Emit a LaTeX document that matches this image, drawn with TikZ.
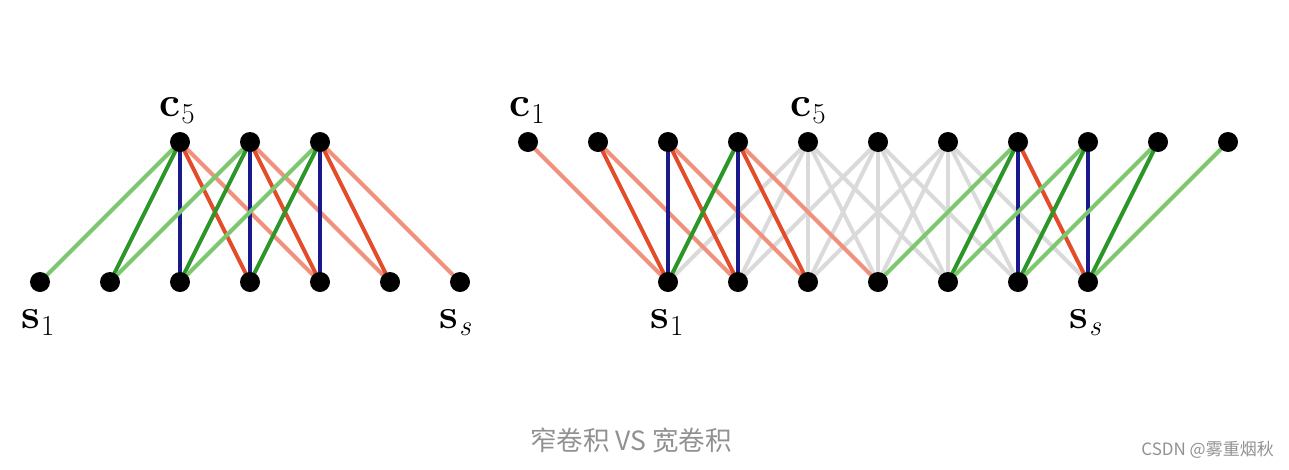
\documentclass[tikz,border=0pt]{standalone}
\usepackage{fontspec}
\newfontfamily\cjk{Noto Sans CJK SC}
\usetikzlibrary{backgrounds}
\definecolor{lgreen}{RGB}{125,200,110}
\definecolor{dgreen}{RGB}{45,150,40}
\definecolor{dblue}{RGB}{25,25,140}
\definecolor{dred}{RGB}{228,75,40}
\definecolor{lred}{RGB}{240,145,125}
\definecolor{lgray}{RGB}{218,218,218}
\definecolor{captgray}{RGB}{145,145,145}
\newcommand\cvlab[2]{\textbf{#1}\kern1pt\raisebox{-7pt}{\fontsize{29}{32}\selectfont #2}}
\tikzset{
  dot/.style={circle,fill=black,inner sep=0pt,minimum size=20pt},
  lbl/.style={inner sep=0pt,font=\fontsize{42}{48}\selectfont},
  conn/.style={line width=4pt},
  cm2/.style={conn,lgreen},
  cm1/.style={conn,dgreen},
  c0/.style={conn,dblue},
  cp1/.style={conn,dred},
  cp2/.style={conn,lred},
  cgray/.style={conn,lgray},
}
\begin{document}
\begin{tikzpicture}[x=1pt,y=-1pt]
\useasboundingbox (0,0) rectangle (1289,469);
% left diagram nodes
\foreach \i in {1,...,7} {
  \node[dot] (Lb\i) at ({40+70*(\i-1)},282) {};
}
\foreach \j in {1,2,3} {
  \node[dot] (Lt\j) at ({180+70*(\j-1)},142) {};
}
% right diagram nodes
\foreach \i in {1,...,11} {
  \node[dot] (Rt\i) at ({528+70*(\i-1)},142) {};
}
\foreach \k in {1,...,7} {
  \node[dot] (Rb\k) at ({668+70*(\k-1)},282) {};
}
\begin{scope}[on background layer]
% left connections
\foreach \j in {1,2,3} {
  \pgfmathtruncatemacro{\a}{\j}
  \pgfmathtruncatemacro{\b}{\j+1}
  \pgfmathtruncatemacro{\c}{\j+2}
  \pgfmathtruncatemacro{\d}{\j+3}
  \pgfmathtruncatemacro{\e}{\j+4}
  \draw[cm2] (Lt\j.center) -- (Lb\a.center);
  \draw[cp2] (Lt\j.center) -- (Lb\e.center);
  \draw[cm1] (Lt\j.center) -- (Lb\b.center);
  \draw[cp1] (Lt\j.center) -- (Lb\d.center);
  \draw[c0]  (Lt\j.center) -- (Lb\c.center);
}
% right connections: gray ones
\foreach \i in {5,6,7} {
  \foreach \dd in {-2,...,2} {
    \pgfmathtruncatemacro{\k}{\i-2+\dd}
    \ifnum\k>0 \ifnum\k<8
      \draw[cgray] (Rt\i.center) -- (Rb\k.center);
    \fi\fi
  }
}
% right connections: coloured ones
\foreach \i in {1,2,3,4,8,9,10,11} {
  \foreach \dd/\st in {-2/cm2,2/cp2,-1/cm1,1/cp1,0/c0} {
    \pgfmathtruncatemacro{\k}{\i-2+\dd}
    \ifnum\k>0 \ifnum\k<8
      \draw[\st] (Rt\i.center) -- (Rb\k.center);
    \fi\fi
  }
}
\end{scope}
% labels
\node[lbl,anchor=base] (lc5) at (177,116) {\cvlab{c}{5}};
\node[lbl,anchor=base] (ls1) at (38,328) {\cvlab{s}{1}};
\node[lbl,anchor=base] (lss) at (455,328) {\cvlab{s}{\itshape s}};
\node[lbl,anchor=base] (rc1) at (527,116) {\cvlab{c}{1}};
\node[lbl,anchor=base] (rc5) at (808,116) {\cvlab{c}{5}};
\node[lbl,anchor=base] (rs1) at (667,328) {\cvlab{s}{1}};
\node[lbl,anchor=base] (rss) at (1085,328) {\cvlab{s}{\itshape s}};
% caption and watermark
\node[inner sep=0pt,text=captgray,font=\cjk\fontsize{26.5}{30}\selectfont] (cap) at (631,440) {窄卷积 VS 宽卷积};
\node[inner sep=0pt,text=captgray,font=\cjk\fontsize{17}{20}\selectfont,anchor=east] (wm) at (1274,450) {CSDN @雾重烟秋};
\end{tikzpicture}
\end{document}
